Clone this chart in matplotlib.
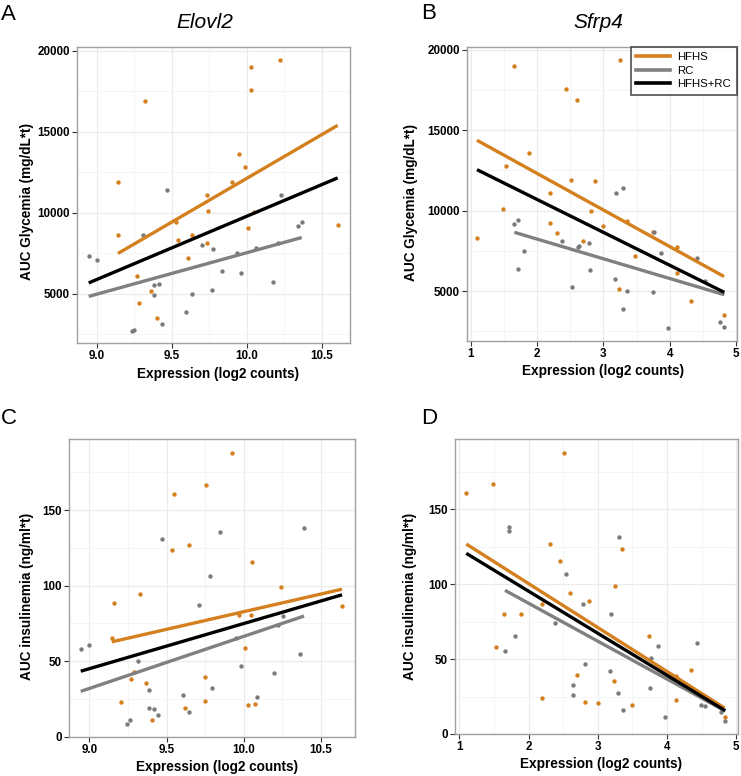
import numpy as np
import matplotlib
matplotlib.use("Agg")
import matplotlib.pyplot as plt
from matplotlib.lines import Line2D

plt.rcParams['font.family'] = ['Liberation Sans', 'DejaVu Sans']

# colours for the diet groups
HFHS_COL = '#D4801F'
RC_COL = '#808080'
ALL_COL = '#000000'

groups = ['HFHS', 'RC', 'HFHS+RC']

# ---- panel A : Elovl2 vs AUC glycemia ----
a_hfhs_x = [9.324, 10.031, 10.22, 10.031, 9.144, 9.949, 9.987, 9.904, 9.738, 9.74, 9.142, 9.527,
            9.54, 9.636, 9.733, 9.609, 10.007, 10.607, 9.267, 9.36, 9.284, 9.4, 10.05]
a_hfhs_y = [16900, 19000, 19400, 17600, 11900, 13600, 12800, 11900, 11100, 10100, 8650, 9400,
            8300, 8600, 8100, 7200, 9050, 9250, 6100, 5150, 4400, 3500, 10050]
a_rc_x = [8.947, 9.0, 9.311, 9.467, 9.702, 9.778, 9.936, 9.96, 9.833, 10.06, 10.229, 10.173,
          10.34, 10.367, 10.207, 9.767, 9.382, 9.416, 9.38, 9.433, 9.233, 9.251, 9.596, 9.636]
a_rc_y = [7350, 7050, 8650, 11400, 8000, 7750, 7500, 6300, 6400, 7850, 11100, 5750,
          9200, 9400, 8150, 5250, 5550, 5600, 4950, 3100, 2700, 2730, 3900, 5000]
a_slope = [5399, 2560, 3905]
a_intercept = [-41874, -18072, -29272]

# ---- panel B : Sfrp4 vs AUC glycemia ----
b_hfhs_x = [1.648, 3.251, 2.442, 2.598, 1.884, 1.528, 2.513, 2.869, 2.201, 1.482, 2.809, 2.196,
            2.995, 3.35, 1.095, 2.302, 2.688, 3.482, 4.11, 4.116, 3.231, 4.327, 4.819, 3.744]
b_hfhs_y = [19000, 19400, 17600, 16900, 13600, 12750, 11900, 11850, 11100, 10100, 10000, 9250,
            9050, 9350, 8300, 8600, 8100, 7200, 7750, 6100, 5150, 4400, 3500, 8650]
b_rc_x = [1.658, 1.709, 1.799, 1.709, 2.382, 2.62, 2.64, 2.784, 2.804, 2.528, 3.191, 3.296,
          3.176, 3.352, 3.291, 3.764, 3.864, 3.744, 3.975, 4.417, 4.533, 4.754, 4.824]
b_rc_y = [9200, 9400, 7500, 6400, 8100, 7750, 7830, 8000, 6300, 5250, 11100, 11400,
          5750, 5000, 3900, 8650, 7350, 4950, 2700, 7050, 5600, 3100, 2730]
b_slope = [-2277, -1227, -2048]
b_intercept = [16874, 10687, 14795]

# ---- panel C : Elovl2 vs AUC insulinemia ----
c_hfhs_x = [9.921, 9.754, 9.549, 9.646, 9.534, 10.05, 9.329, 9.16, 10.243, 10.636, 9.145, 9.968,
            10.048, 10.005, 9.292, 9.27, 9.365, 9.748, 9.205, 9.75, 9.62, 9.408, 10.024, 10.072]
c_hfhs_y = [187.7, 166.8, 160.6, 126.6, 123.3, 115.6, 94.2, 88.7, 98.8, 86.7, 65.3, 80.5,
            80.5, 58.5, 43.0, 38.4, 35.5, 39.7, 22.7, 23.8, 19.2, 11.3, 21.2, 21.6]
c_rc_x = [8.944, 8.998, 9.316, 9.473, 9.847, 9.778, 9.713, 10.39, 10.251, 9.949, 9.98, 10.367,
          10.197, 10.085, 9.793, 9.603, 9.389, 9.389, 9.421, 9.443, 9.646, 9.261, 9.242, 10.223]
c_rc_y = [58.2, 60.7, 50.3, 131.0, 135.4, 106.6, 86.9, 138.1, 79.9, 65.0, 47.0, 54.9,
          41.9, 26.3, 32.4, 27.4, 30.7, 19.2, 18.3, 14.6, 16.3, 11.3, 8.4, 74.1]
c_slope = [23.37, 34.47, 29.88]
c_intercept = [-150.96, -278.3, -223.9]

# ---- panel D : Sfrp4 vs AUC insulinemia ----
d_hfhs_x = [2.518, 1.101, 1.487, 2.311, 3.347, 2.451, 3.255, 2.6, 2.2, 2.875, 1.651, 1.887,
            1.53, 3.742, 4.34, 2.696, 3.241, 4.13, 2.2, 2.822, 3.005, 3.496, 4.123, 4.831]
d_hfhs_y = [187.8, 160.7, 166.7, 126.9, 123.3, 115.5, 98.8, 94.1, 86.6, 88.6, 80.3, 80.3,
            58.3, 65.2, 43.0, 39.6, 35.6, 38.5, 24.0, 21.6, 20.9, 19.4, 22.7, 11.4]
d_rc_x = [1.713, 1.713, 3.304, 2.537, 2.793, 3.198, 2.388, 1.805, 1.66, 3.872, 3.776, 4.431,
          2.812, 3.178, 2.639, 2.639, 3.299, 3.757, 3.366, 3.978, 4.489, 4.547, 4.773, 4.841]
d_rc_y = [138.4, 135.5, 131.3, 106.6, 87.0, 80.1, 74.1, 65.4, 55.2, 58.5, 50.5, 60.8,
          47.0, 42.1, 32.5, 26.3, 27.4, 30.7, 16.2, 11.6, 19.4, 18.5, 14.9, 8.5]
d_slope = [-29.34, -25.31, -28.08]
d_intercept = [159.1, 137.9, 151.5]

glyc_ticks = [5000, 10000, 15000, 20000]
ins_ticks = [0, 50, 100, 150]
elovl_ticks = [9.0, 9.5, 10.0, 10.5]
sfrp_ticks = [1, 2, 3, 4, 5]

W, H = 741, 776
fig = plt.figure(figsize=(W / 100, H / 100), dpi=100)


def px_axes(l, t, r, b):
    return fig.add_axes([l / W, 1 - b / H, (r - l) / W, (b - t) / H])


def panel(ax, hx, hy, rx, ry, slope, icpt, xticks, xfmt, yticks, xlim, ylim, ylabel,
          xlab_pos, ylab_pos):
    # grid, major + minor
    ax.set_xticks(xticks)
    ax.set_yticks(yticks)
    xs_ = list(xticks) + [xticks[-1] + xticks[1] - xticks[0]]
    xm = [xticks[0] - (xticks[1] - xticks[0]) / 2] + [(a + b) / 2 for a, b in zip(xs_[:-1], xs_[1:])]
    ax.set_xticks(xm, minor=True)
    ys = list(yticks) + [yticks[-1] + yticks[1] - yticks[0]]
    ym = [yticks[0] - (yticks[1] - yticks[0]) / 2] + [(a + b) / 2 for a, b in zip(ys[:-1], ys[1:])]
    ax.set_yticks(ym, minor=True)
    # limits after the ticks, set_ticks would widen them otherwise
    ax.set_xlim(*xlim)
    ax.set_ylim(*ylim)
    ax.grid(True, which='major', color='#EBEBEB', lw=0.9)
    ax.grid(True, which='minor', color='#F4F4F4', lw=0.6)
    ax.set_axisbelow(True)
    ax.tick_params(which='minor', length=0)
    ax.tick_params(which='major', length=3.5, width=0.8, color='#333333', pad=1.5,
                   labelsize=8.4, labelcolor='black')
    ax.set_xticklabels([xfmt.format(v) for v in xticks], fontweight='bold')
    ax.set_yticklabels([str(v) for v in yticks], fontweight='bold')
    for s in ax.spines.values():
        s.set_color('#A0A0A0')
        s.set_linewidth(1.0)

    ax.scatter(hx, hy, s=10, color=HFHS_COL, linewidths=0, zorder=2)
    ax.scatter(rx, ry, s=10, color='#7A7A7A', linewidths=0, zorder=2)

    allx = list(hx) + list(rx)
    ranges = [(min(hx), max(hx)), (min(rx), max(rx)), (min(allx), max(allx))]
    cols = [HFHS_COL, RC_COL, ALL_COL]
    for (x0, x1), m, c, col in zip(ranges, slope, icpt, cols):
        xs = np.array([x0, x1])
        ax.plot(xs, m * xs + c, color=col, lw=2.4, solid_capstyle='butt', zorder=3)

    ax.set_xlabel('Expression (log2 counts)', fontsize=9.8, fontweight='bold', va='center')
    ax.set_ylabel(ylabel, fontsize=9.8, fontweight='bold', va='center')
    ax.xaxis.set_label_coords(xlab_pos[0] / W, 1 - xlab_pos[1] / H, transform=fig.transFigure)
    ax.yaxis.set_label_coords(ylab_pos[0] / W, 1 - ylab_pos[1] / H, transform=fig.transFigure)


axA = px_axes(77, 47, 350, 343)
panel(axA, a_hfhs_x, a_hfhs_y, a_rc_x, a_rc_y, a_slope, a_intercept,
      elovl_ticks, '{:.1f}', glyc_ticks, (8.869, 10.689), (1957, 20228),
      'AUC Glycemia (mg/dL*t)', (218, 374), (26.7, 202))

axB = px_axes(466.7, 46.7, 736.7, 340.7)
panel(axB, b_hfhs_x, b_hfhs_y, b_rc_x, b_rc_y, b_slope, b_intercept,
      sfrp_ticks, '{:d}', glyc_ticks, (0.94, 5.01), (1907, 20205),
      'AUC Glycemia (mg/dL*t)', (603, 371), (410.7, 202.5))

axC = px_axes(69, 439.3, 355, 736.7)
panel(axC, c_hfhs_x, c_hfhs_y, c_rc_x, c_rc_y, c_slope, c_intercept,
      elovl_ticks, '{:.1f}', ins_ticks, (8.868, 10.72), (0, 196.8),
      'AUC insulinemia (ng/ml*t)', (217, 766.7), (26.7, 596))

axD = px_axes(454.7, 439.3, 738.3, 734)
panel(axD, d_hfhs_x, d_hfhs_y, d_rc_x, d_rc_y, d_slope, d_intercept,
      sfrp_ticks, '{:d}', ins_ticks, (0.934, 5.03), (0, 196.7),
      'AUC insulinemia (ng/ml*t)', (601, 764), (410.3, 596.3))

# legend in panel B
handles = [Line2D([], [], color=c, lw=2.6) for c in (HFHS_COL, RC_COL, ALL_COL)]
leg = axB.legend(handles, groups, loc='upper right', borderaxespad=0, fontsize=8.2,
                 fancybox=False, handlelength=3.0, handletextpad=0.6, labelspacing=0.3,
                 borderpad=0.5)
leg.get_frame().set_edgecolor('#333333')
leg.get_frame().set_linewidth(1.3)

# panel letters and gene titles
for letter, x, y in [('A', 1, 14), ('B', 421, 13.3), ('C', 1, 418), ('D', 421, 418)]:
    fig.text(x / W, 1 - y / H, letter, fontsize=16, ha='left', va='center')
fig.text(205 / W, 1 - 22 / H, 'Elovl2', fontsize=15, style='italic', ha='center', va='center')
fig.text(598 / W, 1 - 22 / H, 'Sfrp4', fontsize=15, style='italic', ha='center', va='center')

fig.savefig('out.png', dpi=100)
